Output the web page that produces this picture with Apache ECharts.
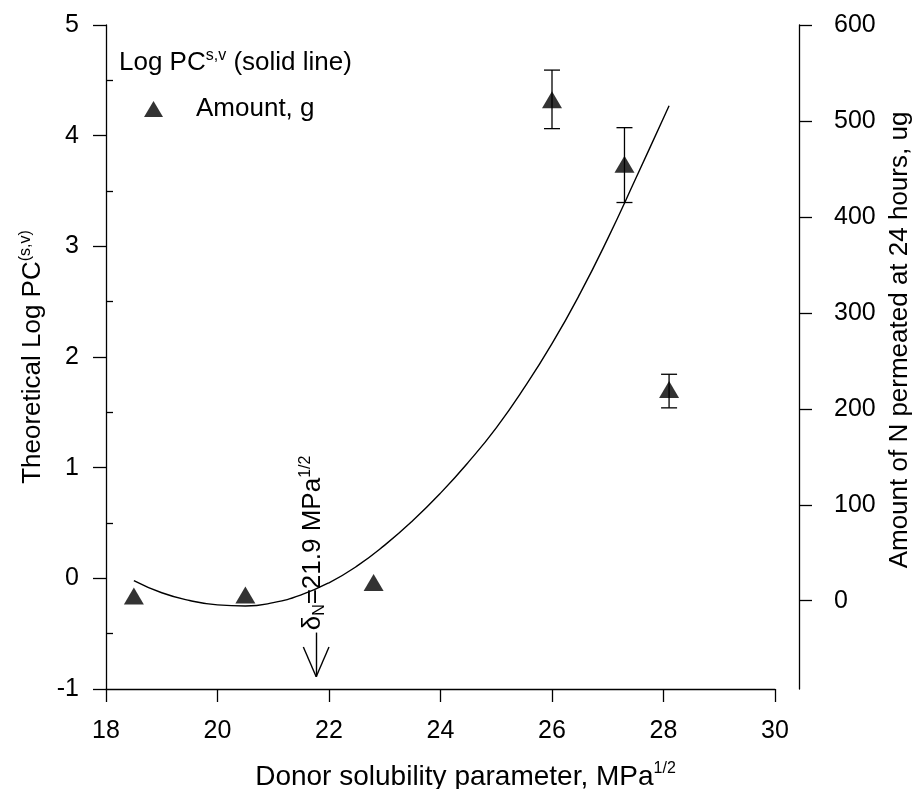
<!DOCTYPE html>
<html><head><meta charset="utf-8">
<script src="https://cdn.jsdelivr.net/npm/echarts@6/dist/echarts.min.js"></script>
<style>html,body{margin:0;padding:0;background:#fff}#c{width:914px;height:789px}</style>
</head><body><div id="c"></div>
<script>
// ---- data ----
const curveX = [18.5, 19.0, 19.5, 20.0, 20.5, 21.0, 21.5, 22.0, 22.5, 23.0, 23.5, 24.0, 24.5, 25.0, 25.5, 26.0, 26.5, 27.0, 27.5, 28.0, 28.1];
const curveY = [-0.02, -0.13, -0.20, -0.24, -0.25, -0.22, -0.15, -0.04, 0.11, 0.30, 0.52, 0.77, 1.05, 1.36, 1.72, 2.12, 2.57, 3.07, 3.61, 4.16, 4.27];
const amountX = [18.5, 20.5, 22.8, 26.0, 27.3, 28.1];
const amountY = [5, 6, 19, 522, 455, 220];
const amountLow = [null, null, null, 492, 415, 201];
const amountHigh = [null, null, null, 553, 493, 236];
const xTicks = [18, 20, 22, 24, 26, 28, 30];
const leftTicks = [-1, 0, 1, 2, 3, 4, 5];
const leftMinorTicks = [-0.5, 0.5, 1.5, 2.5, 3.5, 4.5];
const rightTicks = [0, 100, 200, 300, 400, 500, 600];
const arrowX = 21.77;
const arrowTop = -0.49, arrowTip = -0.89, arrowHeadBase = -0.62, arrowHeadHalf = 0.23;
const annotationY = -0.47;

const FONT = '"Liberation Sans", Arial, sans-serif';
const BLACK = '#000';

const chart = echarts.init(document.getElementById('c'), null, {renderer: 'canvas'});

const curveData = curveX.map((x, i) => [x, curveY[i]]);
const amountData = amountX.map((x, i) => [x, amountY[i]]);
const errData = [];
amountX.forEach((x, i) => { if (amountLow[i] != null) errData.push([x, amountLow[i], amountHigh[i]]); });

const axisLineStyle = {color: BLACK, width: 1.3};
const option = {
  animation: false,
  backgroundColor: '#fff',
  textStyle: {fontFamily: FONT, color: BLACK},
  grid: {left: 106, right: 139, top: 25, bottom: 100, containLabel: false, outerBoundsMode: 'none'},
  legend: {
    data: [{name: 'Amount, g', icon: 'triangle'}],
    left: 139, top: 91, itemWidth: 19, itemHeight: 16,
    selectedMode: false,
    itemStyle: {color: BLACK},
    textStyle: {fontSize: 26, color: BLACK, fontFamily: FONT, padding: [0, 0, 0, 28]}
  },
  xAxis: {
    type: 'value', min: xTicks[0], max: xTicks[xTicks.length - 1], interval: 2,
    axisLine: {show: true, onZero: false, lineStyle: axisLineStyle},
    axisTick: {show: true, inside: false, length: 13, lineStyle: axisLineStyle},
    axisLabel: {fontSize: 25, color: BLACK, margin: 30, fontFamily: FONT},
    splitLine: {show: false},
    name: '{a|Donor solubility parameter, MPa}{s|1/2}',
    nameLocation: 'middle', nameGap: 72,
    nameTextStyle: {
      padding: [0, 0, 0, 50],
      rich: {
        a: {fontSize: 28, fontFamily: FONT, color: BLACK, lineHeight: 32},
        s: {fontSize: 16, fontFamily: FONT, color: BLACK, lineHeight: 16, verticalAlign: 'top'}
      }
    }
  },
  yAxis: [
    {
      type: 'value', position: 'left', min: leftTicks[0], max: leftTicks[leftTicks.length - 1], interval: 1,
      axisLine: {show: true, onZero: false, lineStyle: axisLineStyle},
      axisTick: {show: true, inside: false, length: 13, lineStyle: axisLineStyle},
      axisLabel: {fontSize: 25, color: BLACK, margin: 27, fontFamily: FONT},
      splitLine: {show: false},
      name: '{a|Theoretical Log PC}{s|(s,v)}',
      nameLocation: 'middle', nameRotate: 90, nameGap: 58,
      nameTextStyle: {
        rich: {
          a: {fontSize: 26, fontFamily: FONT, color: BLACK, lineHeight: 30},
          s: {fontSize: 16, fontFamily: FONT, color: BLACK, lineHeight: 16, verticalAlign: 'top'}
        }
      }
    },
    {
      type: 'value', position: 'right', offset: 24, min: -92, max: rightTicks[rightTicks.length - 1],
      axisLine: {show: true, onZero: false, lineStyle: axisLineStyle},
      axisTick: {show: true, inside: false, length: 13, lineStyle: axisLineStyle, customValues: rightTicks},
      axisLabel: {fontSize: 25, color: BLACK, margin: 35, fontFamily: FONT, customValues: rightTicks},
      splitLine: {show: false},
      name: 'Amount of N permeated at 24 hours, ug',
      nameLocation: 'middle', nameRotate: 90, nameGap: 74,
      nameTextStyle: {fontSize: 26, fontFamily: FONT, color: BLACK, padding: [0, 0, 0, 34]}
    },
    {
      type: 'value', position: 'left', min: leftTicks[0], max: leftTicks[leftTicks.length - 1],
      axisLine: {show: false, onZero: false},
      axisTick: {show: true, inside: true, length: 7, lineStyle: axisLineStyle, customValues: leftMinorTicks},
      axisLabel: {show: false},
      splitLine: {show: false}
    }
  ],
  series: [
    {
      name: 'Log PC', type: 'line', xAxisIndex: 0, yAxisIndex: 0,
      data: curveData, smooth: 0.5, symbol: 'none',
      lineStyle: {color: BLACK, width: 1.4}, z: 3,
      markLine: {
        silent: true, symbol: ['none', 'none'], animation: false,
        label: {show: false},
        lineStyle: {color: BLACK, width: 1.4, type: 'solid'},
        emphasis: {disabled: true},
        data: [
          [{coord: [arrowX, arrowTop]}, {coord: [arrowX, arrowTip]}],
          [{coord: [arrowX - arrowHeadHalf, arrowHeadBase]}, {coord: [arrowX, arrowTip]}],
          [{coord: [arrowX + arrowHeadHalf, arrowHeadBase]}, {coord: [arrowX, arrowTip]}]
        ]
      }
    },
    {
      name: 'Amount error', type: 'custom', xAxisIndex: 0, yAxisIndex: 1, z: 4,
      data: errData,
      renderItem: function (params, api) {
        const x = api.value(0);
        const lo = api.coord([x, api.value(1)]);
        const hi = api.coord([x, api.value(2)]);
        const hw = 8;
        const st = {stroke: BLACK, lineWidth: 1.3};
        return {type: 'group', children: [
          {type: 'line', shape: {x1: lo[0], y1: lo[1], x2: hi[0], y2: hi[1]}, style: st},
          {type: 'line', shape: {x1: lo[0] - hw, y1: lo[1], x2: lo[0] + hw, y2: lo[1]}, style: st},
          {type: 'line', shape: {x1: hi[0] - hw, y1: hi[1], x2: hi[0] + hw, y2: hi[1]}, style: st}
        ]};
      }
    },
    {
      name: 'Amount, g', type: 'scatter', xAxisIndex: 0, yAxisIndex: 1, z: 5,
      data: amountData, symbol: 'triangle', symbolSize: [20, 17],
      itemStyle: {color: BLACK}
    }
  ],
  graphic: [
    {
      type: 'text', left: 119, top: 48, silent: true,
      style: {
        text: '{a|Log PC}{s|s,v}{a| (solid line)}',
        rich: {
          a: {fontSize: 26, fontFamily: FONT, fill: BLACK, lineHeight: 30},
          s: {fontSize: 16, fontFamily: FONT, fill: BLACK, lineHeight: 16, verticalAlign: 'top'}
        }
      }
    }
  ]
};
chart.setOption(option);

const p = chart.convertToPixel({xAxisIndex: 0, yAxisIndex: 0}, [arrowX, annotationY]);
chart.setOption({
  graphic: [
    {},
    {
      type: 'text', x: p[0] - 3.5, y: p[1], rotation: Math.PI / 2, silent: true,
      style: {
        text: '{a|δ}{b|N}{a|=21.9 MPa}{c|1/2}',
        align: 'left', verticalAlign: 'middle',
        rich: {
          a: {fontSize: 26, fontFamily: FONT, fill: BLACK, lineHeight: 30},
          b: {fontSize: 16, fontFamily: FONT, fill: BLACK, lineHeight: 16, verticalAlign: 'bottom'},
          c: {fontSize: 16, fontFamily: FONT, fill: BLACK, lineHeight: 16, verticalAlign: 'top'}
        }
      }
    }
  ]
});
</script>
</body></html>
